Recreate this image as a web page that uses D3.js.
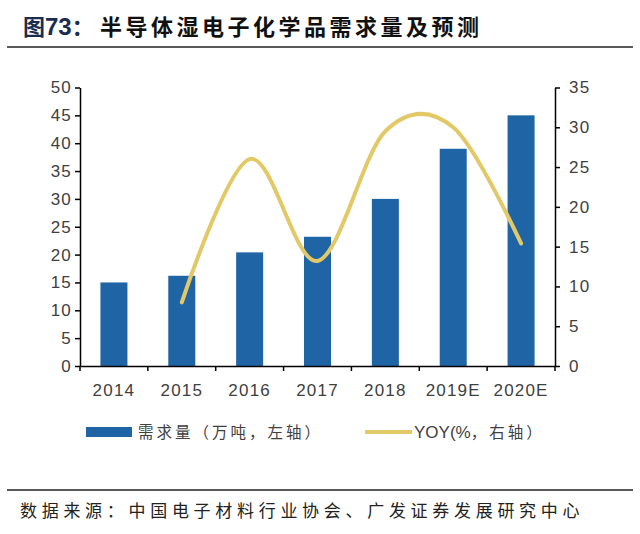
<!DOCTYPE html>
<html><head><meta charset="utf-8">
<script src="https://cdn.jsdelivr.net/npm/d3@7"></script>
<style>body{margin:0;background:#fff}svg{display:block}</style>
</head><body>
<svg id="c" width="640" height="534"></svg>
<script>
const categories = ["2014","2015","2016","2017","2018","2019E","2020E"];
const demand = [15, 16.2, 20.4, 23.2, 30, 39, 45];
const yoyCats = ["2015","2016","2017","2018","2019E","2020E"];
const yoy = [8, 26, 13.2, 29.5, 30, 15.4];
const leftTicks = [0,5,10,15,20,25,30,35,40,45,50];
const rightTicks = [0,5,10,15,20,25,30,35];
const titleText = "半导体湿电子化学品需求量及预测";
const legendBar = "需求量（万吨，左轴）";
const legendLine = "YOY(%，右轴）";
const source = "数据来源：中国电子材料行业协会、广发证券发展研究中心";

const svg = d3.select("#c");
const cjk = "'Noto Sans CJK SC','Noto Sans',sans-serif";
const lat = "'Liberation Sans',Arial,sans-serif";
const L = 80, R = 555, T = 87.5, B = 366;

const xb = d3.scaleBand().domain(categories).range([L, R]);
const yL = d3.scaleLinear().domain([0, 50]).range([B, T]);
const yR = d3.scaleLinear().domain([0, 35]).range([B, T]);

// title
const tt = svg.append("text").attr("y", 35).attr("font-weight", "bold").attr("font-size", 22);
tt.append("tspan").attr("x", 23).attr("fill", "#1a2d4f").attr("font-family", cjk).text("图");
tt.append("tspan").attr("fill", "#1a2d4f").attr("font-family", lat).attr("font-size", 24).text("73");
tt.append("tspan").attr("fill", "#1a2d4f").attr("font-family", cjk).text("：");
svg.append("text").attr("x", 100).attr("y", 35).attr("font-weight", "bold").attr("font-size", 22)
  .attr("fill", "#111").attr("font-family", cjk).attr("letter-spacing", 3.5).text(titleText);
svg.append("line").attr("x1", 7).attr("x2", 633).attr("y1", 47).attr("y2", 47).attr("stroke", "#222").attr("stroke-width", 1.5);

// bars
svg.append("g").selectAll("rect").data(categories).join("rect")
  .attr("x", d => xb(d) + (xb.bandwidth() - 27) / 2)
  .attr("width", 27)
  .attr("y", (d, i) => yL(demand[i]))
  .attr("height", (d, i) => B - yL(demand[i]))
  .attr("fill", "#1f65a5");

// axes
const axL = svg.append("g").attr("transform", `translate(${L},0)`)
  .call(d3.axisLeft(yL).tickValues(leftTicks).tickSize(5).tickSizeOuter(0));
const axR = svg.append("g").attr("transform", `translate(${R},0)`)
  .call(d3.axisRight(yR).tickValues(rightTicks).tickSize(5).tickSizeOuter(0));
const axB = svg.append("g").attr("transform", `translate(0,${B})`)
  .call(d3.axisBottom(xb).tickSize(0).tickSizeOuter(0));
const bounds = categories.map(c => xb(c)).concat([R]);
svg.append("g").selectAll("line").data(bounds).join("line")
  .attr("x1", d => d).attr("x2", d => d).attr("y1", B).attr("y2", B + 5)
  .attr("stroke", "#000").attr("stroke-width", 1.5);
[axL, axR, axB].forEach(a => {
  a.select(".domain").attr("stroke", "#000").attr("stroke-width", 1.5);
  a.selectAll(".tick line").attr("stroke", "#000").attr("stroke-width", 1.5);
  a.selectAll("text").attr("font-family", lat).attr("font-size", 17).attr("letter-spacing", 1.2).attr("fill", "#404040");
});
axL.selectAll("text").attr("x", -8);
axR.selectAll("text").attr("x", 14);
axB.selectAll("text").attr("dy", "0").attr("y", 30);

// line
const line = d3.line().x((d, i) => xb(yoyCats[i]) + xb.bandwidth() / 2).y(d => yR(d)).curve(d3.curveCardinal.tension(0));
svg.append("path").datum(yoy).attr("d", line).attr("fill", "none")
  .attr("stroke", "#e2c866").attr("stroke-width", 4).attr("stroke-linecap", "round");

// legend
svg.append("rect").attr("x", 86).attr("y", 427).attr("width", 46).attr("height", 10).attr("fill", "#1f65a5");
svg.append("text").attr("x", 138).attr("y", 438).attr("font-family", cjk).attr("font-size", 15.5)
  .attr("letter-spacing", 3).attr("fill", "#404040").text(legendBar);
svg.append("line").attr("x1", 365).attr("x2", 412).attr("y1", 432).attr("y2", 432).attr("stroke", "#e2c866").attr("stroke-width", 4);
svg.append("text").attr("x", 414).attr("y", 438).attr("font-size", 17).attr("fill", "#404040")
  .call(t => {
    t.append("tspan").attr("font-family", lat).text("YOY(%");
    t.append("tspan").attr("font-family", cjk).attr("font-size", 15.5).attr("letter-spacing", 3).text("，右轴）");
  });

// footer
svg.append("line").attr("x1", 7).attr("x2", 633).attr("y1", 490).attr("y2", 490).attr("stroke", "#222").attr("stroke-width", 1.5);
svg.append("text").attr("x", 20).attr("y", 517).attr("font-family", cjk).attr("font-size", 17)
  .attr("letter-spacing", 4.7).attr("fill", "#222").text(source);
</script>
</body></html>
